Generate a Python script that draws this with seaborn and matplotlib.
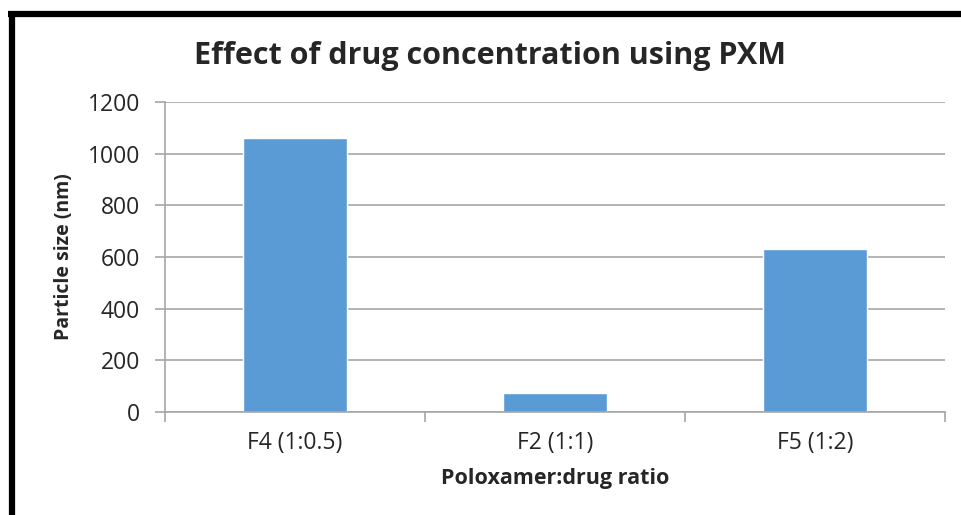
import numpy as np
import pandas as pd
import seaborn as sns
import matplotlib.pyplot as plt
from matplotlib.lines import Line2D
from matplotlib.ticker import FixedLocator

# values
ratios = ["F4 (1:0.5)", "F2 (1:1)", "F5 (1:2)"]
particle_size = [1060, 73, 632]

df = pd.DataFrame({"ratio": ratios, "size": particle_size})

sns.set_theme(style="white")
plt.rcParams['font.family'] = ['Open Sans', 'DejaVu Sans']

fig = plt.figure(figsize=(9.61, 5.15), dpi=100)
ax = fig.add_axes([165 / 961, 1 - 412 / 515, (945 - 165) / 961, (412 - 102) / 515])

sns.barplot(data=df, x="ratio", y="size", color="#5B9BD5", saturation=1,
            width=0.4, ax=ax)

grey = "#A6A6A6"
ax.set_ylim(0, 1200)
ax.set_yticks(range(0, 1201, 200))
ax.set_xlim(-0.5, 2.5)
ax.yaxis.grid(True, color=grey, linewidth=1.2)
ax.set_axisbelow(True)

for side in ["top", "right"]:
    ax.spines[side].set_visible(False)
for side in ["left", "bottom"]:
    ax.spines[side].set_color(grey)
    ax.spines[side].set_linewidth(1.2)

ax.tick_params(axis="y", left=True, length=7, width=1.2, color=grey,
               pad=11, labelsize=16.5, labelcolor="#262626")
ax.tick_params(axis="x", which="major", length=0, pad=14, labelsize=16.5,
               labelcolor="#262626")
ax.xaxis.set_minor_locator(FixedLocator([-0.5, 0.5, 1.5, 2.5]))
ax.tick_params(axis="x", which="minor", bottom=True, length=7, width=1.2,
               color=grey)

ax.set_xlabel("Poloxamer:drug ratio", fontsize=15.5, fontweight="bold",
              labelpad=9)
ax.set_ylabel("Particle size (nm)", fontsize=14, fontweight="bold",
              labelpad=10)

fig.text(0.51, 1 - 56 / 515, "Effect of drug concentration using PXM",
         ha="center", va="center", fontsize=22, fontweight="bold")

# black frame lines on top and left
fig.add_artist(Line2D([8 / 961, 1], [1 - 14 / 515] * 2, color="black",
                      linewidth=4.5, solid_capstyle="butt",
                      transform=fig.transFigure))
fig.add_artist(Line2D([11.5 / 961] * 2, [0, 1 - 11 / 515], color="black",
                      linewidth=4.5, solid_capstyle="butt",
                      transform=fig.transFigure))

fig.savefig("out.png", dpi=100)
